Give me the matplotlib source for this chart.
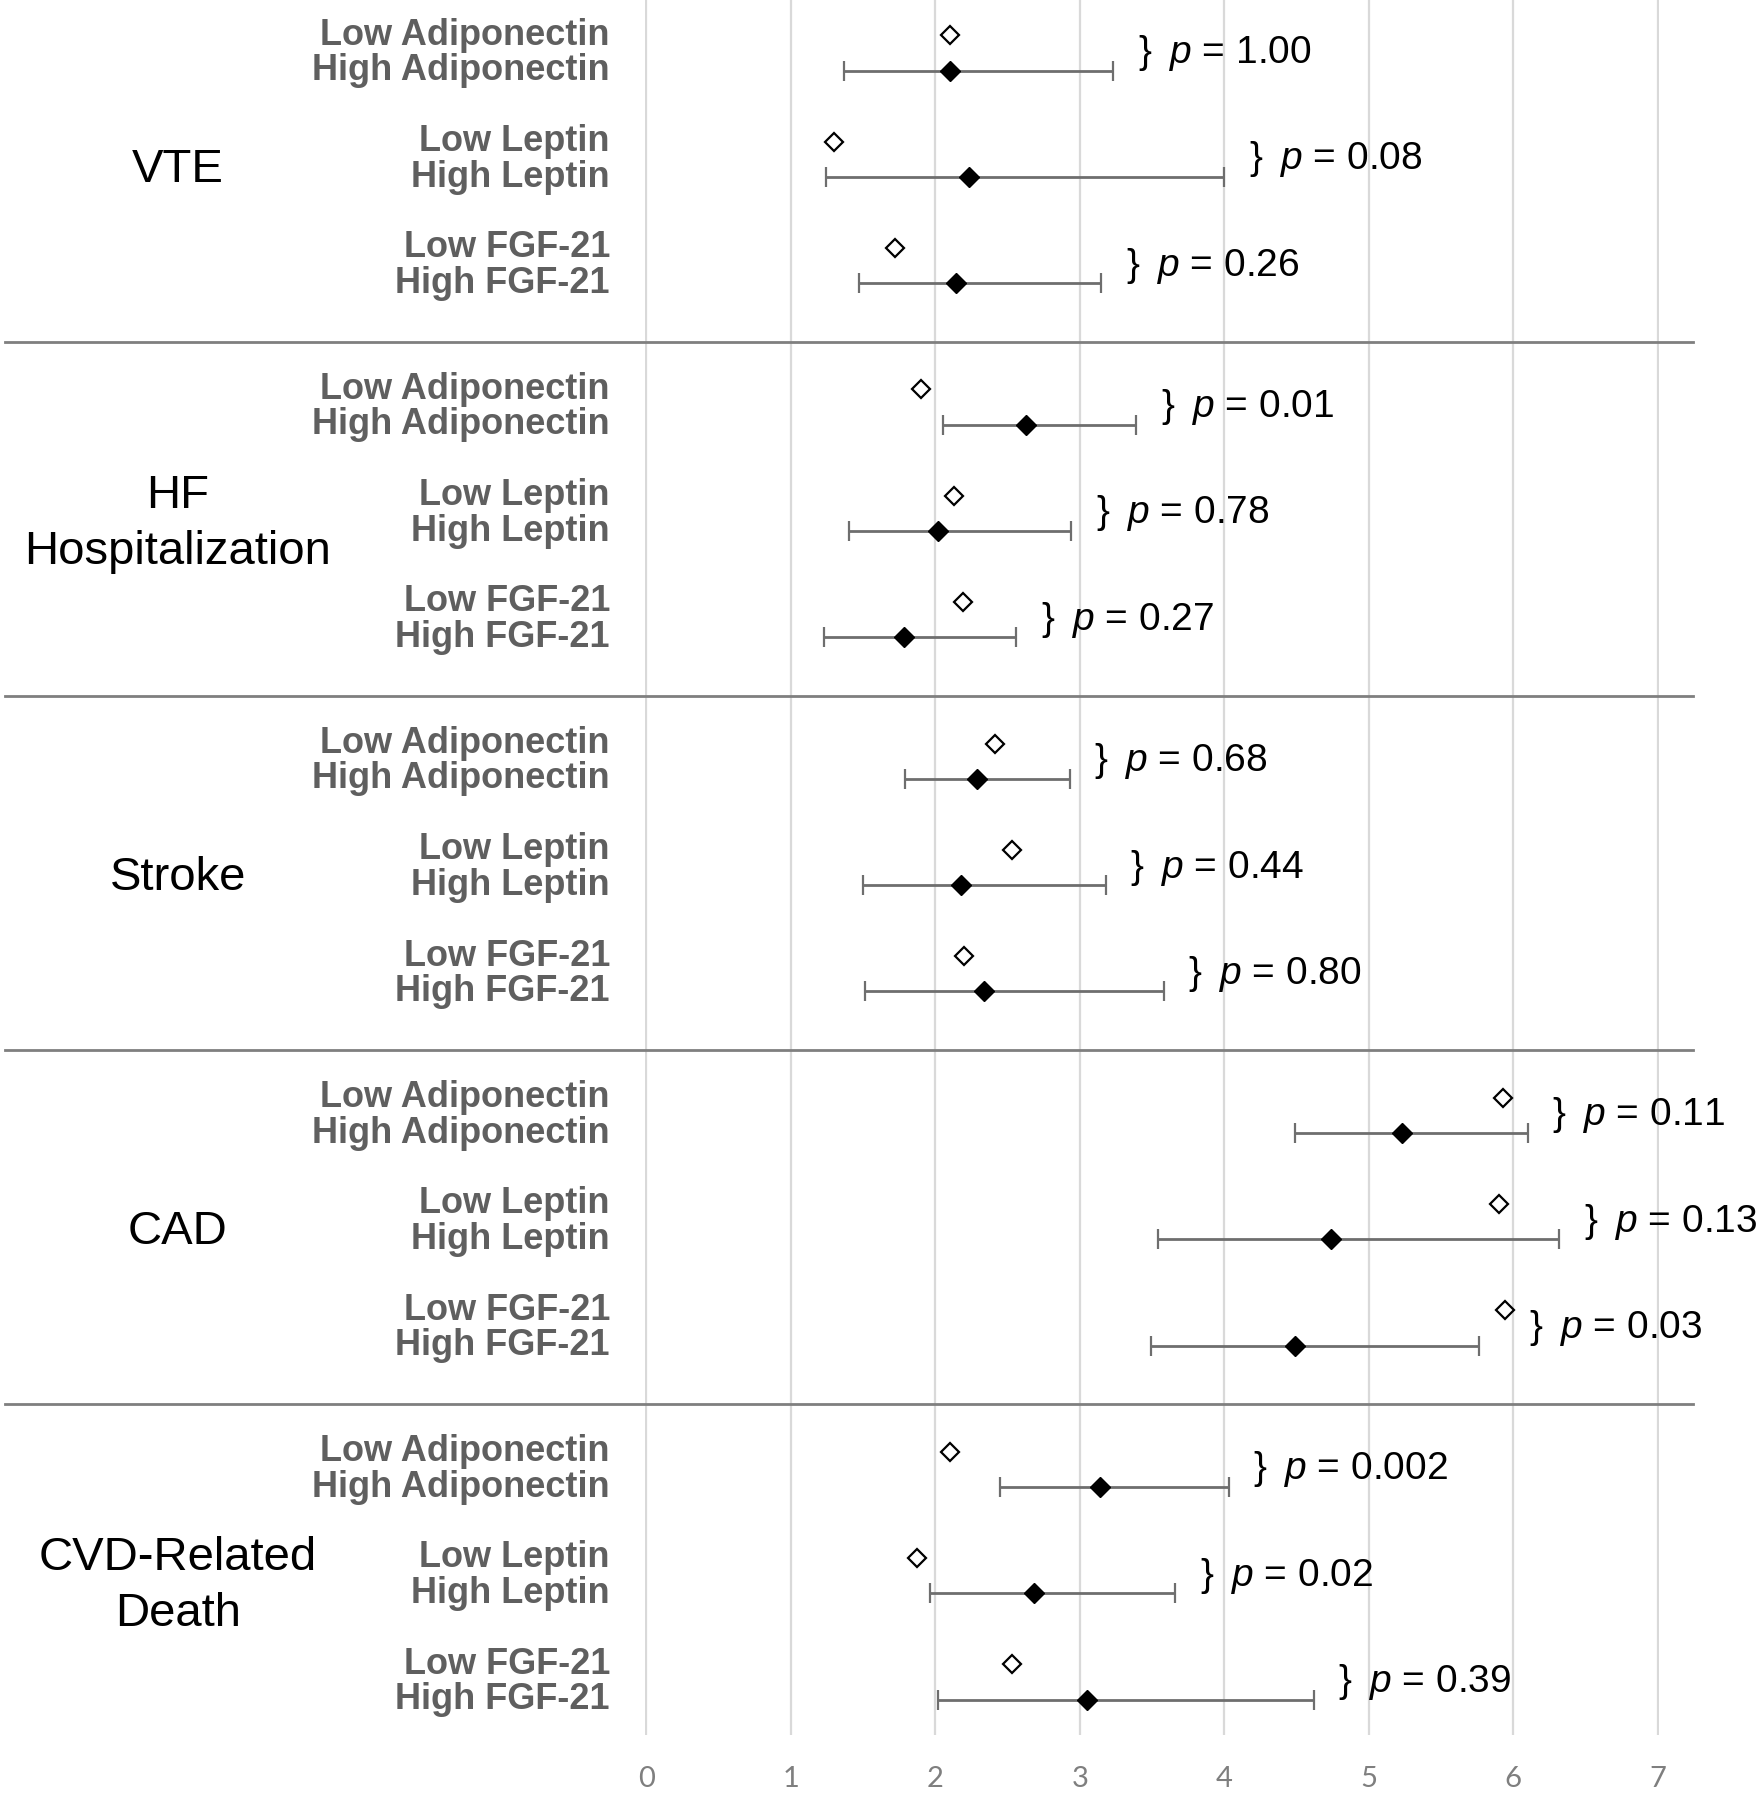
import numpy as np
import matplotlib
matplotlib.use('Agg')
import matplotlib.pyplot as plt
from matplotlib.transforms import blended_transform_factory

plt.rcParams['font.family'] = ['Liberation Sans', 'DejaVu Sans']
plt.rcParams['mathtext.fontset'] = 'custom'
plt.rcParams['mathtext.it'] = 'Liberation Sans:italic'
plt.rcParams['mathtext.rm'] = 'Liberation Sans'

# outcomes and biomarkers
outcomes = ['VTE', 'HF\nHospitalization', 'Stroke', 'CAD', 'CVD-Related\nDeath']
biomarkers = ['Adiponectin', 'Leptin', 'FGF-21']

# values per outcome, in biomarker order (Adiponectin, Leptin, FGF-21)
low_vals = [[2.10, 1.30, 1.72],
            [1.90, 2.13, 2.19],
            [2.41, 2.53, 2.20],
            [5.93, 5.90, 5.94],
            [2.10, 1.87, 2.53]]
high_vals = [[2.10, 2.23, 2.14],
             [2.63, 2.02, 1.78],
             [2.29, 2.18, 2.34],
             [5.23, 4.74, 4.49],
             [3.14, 2.68, 3.05]]
ci_low = [[1.37, 1.24, 1.47],
          [2.05, 1.40, 1.23],
          [1.79, 1.50, 1.51],
          [4.49, 3.54, 3.49],
          [2.45, 1.96, 2.02]]
ci_high = [[3.23, 4.00, 3.15],
           [3.39, 2.94, 2.56],
           [2.93, 3.18, 3.58],
           [6.10, 6.32, 5.76],
           [4.03, 3.66, 4.62]]
p_vals = [['1.00', '0.08', '0.26'],
          ['0.01', '0.78', '0.27'],
          ['0.68', '0.44', '0.80'],
          ['0.11', '0.13', '0.03'],
          ['0.002', '0.02', '0.39']]

label_color = '#5f5f5f'

fig = plt.figure(figsize=(17.65, 18), dpi=100)
ax = fig.add_axes([0.3654, 0.0361, 0.5746, 0.9639])
trans = blended_transform_factory(fig.transFigure, ax.transData)

for g, outcome in enumerate(outcomes):
    base = 10 * g
    low_y = base + 3 * np.arange(3)
    high_y = low_y + 1
    lo = np.array(low_vals[g])
    hi = np.array(high_vals[g])
    cl = np.array(ci_low[g])
    ch = np.array(ci_high[g])

    ax.errorbar(hi, high_y, xerr=[hi - cl, ch - hi], fmt='none',
                ecolor='#6e6e6e', elinewidth=2, capsize=7, capthick=1.6, zorder=3)
    ax.plot(hi, high_y, 'D', color='black', ms=10.5, zorder=4)
    ax.plot(lo, low_y, 'D', mfc='white', mec='black', ms=9.5, mew=1.6, zorder=4)

    for m, name in enumerate(biomarkers):
        ax.text(0.3456, low_y[m], f'Low {name}', transform=trans, ha='right',
                va='center', fontsize=26, fontweight='bold', color=label_color)
        ax.text(0.3456, high_y[m], f'High {name}', transform=trans, ha='right',
                va='center', fontsize=26, fontweight='bold', color=label_color)
        xp = max(ch[m], lo[m]) + 0.17
        ax.text(xp, low_y[m] + 0.5, '}\u2009 $p$ = ' + p_vals[g][m], ha='left',
                va='center', fontsize=28, color='black', clip_on=False)

    ax.text(0.1008, base + 3.8, outcome, transform=trans, ha='center',
            va='center', fontsize=34, color='black', linespacing=1.35)

    if g < len(outcomes) - 1:
        ax.plot([0.003, 0.959], [base + 8.65, base + 8.65], transform=trans,
                color='#7f7f7f', lw=2, clip_on=False)

ax.set_xlim(-0.01, 7.01)
ax.set_ylim(48, -1)
ax.set_xticks(range(8))
ax.set_yticks([])
ax.grid(axis='x', color='#d9d9d9', lw=1.6)
ax.set_axisbelow(True)
for s in ax.spines.values():
    s.set_visible(False)
ax.tick_params(axis='x', length=0, pad=22, labelsize=21, labelcolor='#7f7f7f')
for lbl in ax.get_xticklabels():
    lbl.set_family(['Lato', 'DejaVu Sans'])

fig.savefig('out.png', dpi=100)
